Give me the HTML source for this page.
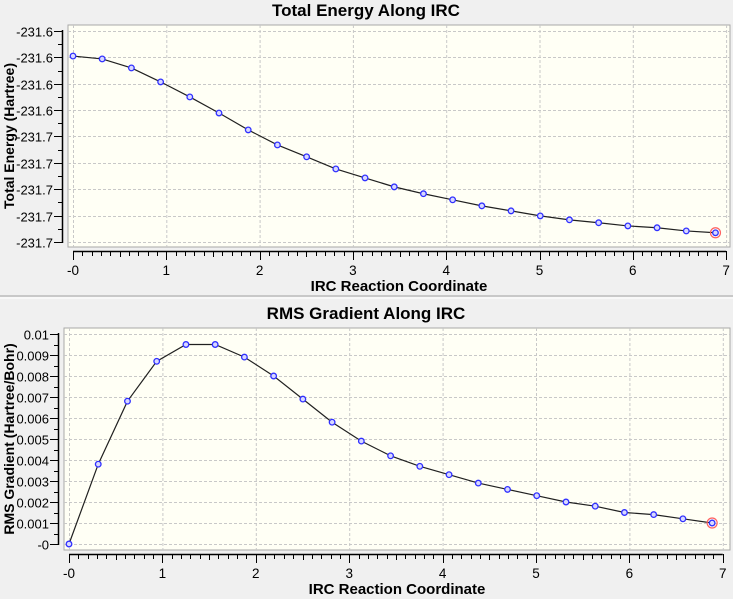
<!DOCTYPE html>
<html><head><meta charset="utf-8"><style>
body{margin:0;background:#f0f0f0;width:733px;height:599px;overflow:hidden;font-family:"Liberation Sans",Arial,sans-serif}
svg{display:block}
</style></head><body>
<svg id="svg" width="733" height="599" xmlns="http://www.w3.org/2000/svg">
<rect x="0" y="0" width="733" height="599" fill="#f0f0f0"/>
<line x1="0" y1="296" x2="733" y2="296" stroke="#a0a0a0" stroke-width="1"/>
<line x1="0" y1="298" x2="733" y2="298" stroke="#ffffff" stroke-width="1"/>
</svg>
<script>
const xValues=[0,0.313,0.626,0.939,1.252,1.565,1.878,2.191,2.504,2.817,3.13,3.443,3.756,4.069,4.382,4.695,5.008,5.321,5.634,5.947,6.26,6.573,6.886];
const energyValues=[-231.6095,-231.6106,-231.6140,-231.6193,-231.6250,-231.6311,-231.6375,-231.6432,-231.6477,-231.6523,-231.6557,-231.6591,-231.6617,-231.6640,-231.6663,-231.6682,-231.6701,-231.6716,-231.6727,-231.6739,-231.6746,-231.6758,-231.6765];
const gradValues=[0,0.0038,0.0068,0.0087,0.0095,0.0095,0.0089,0.0080,0.0069,0.0058,0.0049,0.0042,0.0037,0.0033,0.0029,0.0026,0.0023,0.0020,0.0018,0.0015,0.0014,0.0012,0.0010];
const energyTicks=[-231.60,-231.61,-231.62,-231.63,-231.64,-231.65,-231.66,-231.67,-231.68];
const energyTickLabels=["-231.6","-231.6","-231.6","-231.6","-231.7","-231.7","-231.7","-231.7","-231.7"];
const gradTicks=[0.01,0.009,0.008,0.007,0.006,0.005,0.004,0.003,0.002,0.001,0];
const gradTickLabels=["0.01","0.009","0.008","0.007","0.006","0.005","0.004","0.003","0.002","0.001","-0"];
const xTicks=[0,1,2,3,4,5,6,7];
const xTickLabels=["-0","1","2","3","4","5","6","7"];

const NS="http://www.w3.org/2000/svg";
const svg=document.getElementById('svg');
function el(tag,attrs,parent){const e=document.createElementNS(NS,tag);for(const k in attrs)e.setAttribute(k,attrs[k]);(parent||svg).appendChild(e);return e;}

function drawChart(cfg){
  const g=el('g',{});
  
  
  const xs=v=>cfg.x0+v*cfg.xs;
  const ys=v=>cfg.yTop+(cfg.yMax-v)/(cfg.yMax-cfg.yMin)*(cfg.yBot-cfg.yTop);
  const t=el('text',{x:366,y:cfg.titleY,'text-anchor':'middle','font-size':17,'font-weight':'bold',fill:'#000'},g);
  t.textContent=cfg.title;
  
  
  const plot=el('rect',{x:cfg.fl,y:cfg.ft,width:cfg.fr-cfg.fl,height:cfg.fb-cfg.ft,fill:'#fffff5',stroke:'#a8a8a8','stroke-width':1},g);
  
  
  xTicks.forEach(v=>{const X=xs(v)+0.5;el('line',{x1:X,y1:cfg.ft,x2:X,y2:cfg.fb,stroke:'#c8c8c8','stroke-dasharray':'3,2'},g);});
  cfg.ticks.forEach(v=>{const Y=Math.round(ys(v))+0.5;el('line',{x1:cfg.fl,y1:Y,x2:cfg.fr,y2:Y,stroke:'#c8c8c8','stroke-dasharray':'3,2'},g);});
  const ax=cfg.fl-6;
  el('line',{x1:ax+0.5,y1:ys(cfg.ticks[0])-1,x2:ax+0.5,y2:ys(cfg.ticks[cfg.ticks.length-1])+1,stroke:'#000','stroke-width':1.5},g);
  cfg.ticks.forEach((v,i)=>{const Y=Math.round(ys(v))+0.5;
    el('line',{x1:ax-8,y1:Y,x2:ax,y2:Y,stroke:'#000'},g);
    if(i<cfg.ticks.length-1){const Ym=Math.round(ys(v-(cfg.ticks[0]-cfg.ticks[1])/2))+0.5;el('line',{x1:ax-4,y1:Ym,x2:ax,y2:Ym,stroke:'#000'},g);}
    const lt=el('text',{x:ax-9,y:Y+5,'text-anchor':'end','font-size':13,fill:'#000'},g);lt.textContent=cfg.labels[i];
    
    
  });
  const ay=cfg.fb+4;
  el('line',{x1:xs(0),y1:ay+0.5,x2:xs(7),y2:ay+0.5,stroke:'#000','stroke-width':1.5},g);
  for(let k=0;k<=70;k++){const X=Math.round(xs(k/10))+0.5;el('line',{x1:X,y1:ay,x2:X,y2:ay+(k%10==0?9:(k%5==0?6:5)),stroke:'#000'},g);}
  xTicks.forEach((v,i)=>{const lt=el('text',{x:xs(v),y:ay+24,'text-anchor':'middle','font-size':13.5,fill:'#000'},g);lt.textContent=xTickLabels[i];
    
    });
  const xt=el('text',{x:(cfg.fl+cfg.fr)/2,y:cfg.xTitleY,'text-anchor':'middle','font-size':15,'font-weight':'bold',fill:'#000'},g);xt.textContent='IRC Reaction Coordinate';
  
  
  const yt=el('text',{x:0,y:0,'text-anchor':'middle','font-size':14,'font-weight':'bold',fill:'#000',transform:`translate(${cfg.yTitleX},${(cfg.ft+cfg.fb)/2}) rotate(-90)`},g);yt.textContent=cfg.yTitle;
  
  
  const pts=xValues.map((v,i)=>xs(v)+','+ys(cfg.values[i])).join(' ');
  const pl=el('polyline',{points:pts,fill:'none',stroke:'#202020','stroke-width':1.2},g);
  
  
  xValues.forEach((v,i)=>{
    if(i===xValues.length-1){el('circle',{cx:xs(v),cy:ys(cfg.values[i]),r:5,fill:'none',stroke:'#ff6060','stroke-width':1.2},g);}
    const c=el('circle',{cx:xs(v),cy:ys(cfg.values[i]),r:2.8,fill:'#d8d8ff',stroke:'#3030ff','stroke-width':1.3},g);
    
    
  });
}
drawChart({name:'total-energy-chart',title:'Total Energy Along IRC',titleY:16,values:energyValues,ticks:energyTicks,labels:energyTickLabels,
  yMax:-231.60,yMin:-231.68,yTop:31,yBot:242,x0:73,xs:93.3,fl:68,fr:730,ft:25,fb:247,xTitleY:291,yTitleX:14,yTitle:'Total Energy (Hartree)'});
drawChart({name:'rms-gradient-chart',title:'RMS Gradient Along IRC',titleY:319,values:gradValues,ticks:gradTicks,labels:gradTickLabels,
  yMax:0.01,yMin:0,yTop:334,yBot:544,x0:69,xs:93.4,fl:64,fr:730,ft:328,fb:550,xTitleY:594,yTitleX:14,yTitle:'RMS Gradient (Hartree/Bohr)'});
</script>
</body></html>
